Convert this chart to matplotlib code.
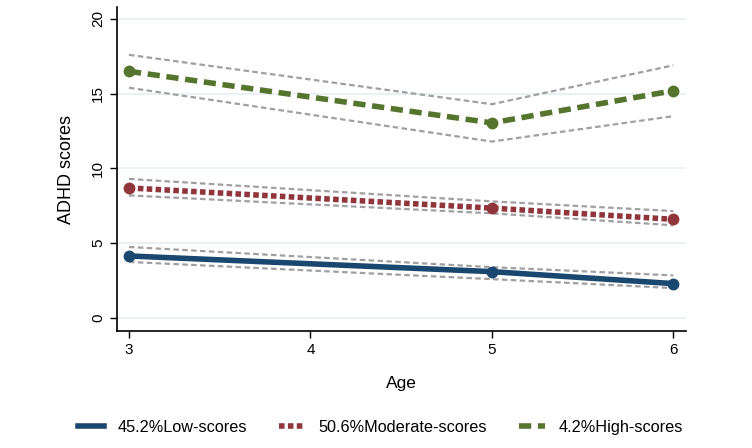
import matplotlib
matplotlib.use("Agg")
import matplotlib.pyplot as plt
import numpy as np

plt.rcParams['font.family'] = ['Liberation Sans', 'DejaVu Sans']

ages = [3, 5, 6]

low = [4.15, 3.1, 2.3]
low_hi = [4.75, 3.4, 2.85]
low_lo = [3.75, 2.6, 2.0]

mod = [8.7, 7.35, 6.6]
mod_hi = [9.3, 7.8, 7.15]
mod_lo = [8.2, 7.0, 6.2]

high = [16.5, 13.05, 15.2]
high_hi = [17.6, 14.3, 16.9]
high_lo = [15.4, 11.8, 13.5]

labels = ['45.2%Low-scores', '50.6%Moderate-scores', '4.2%High-scores']
colors = ['#1a476f', '#90353b', '#55752f']
styles = ['-', (0, (1, 0.6)), (0, (2.2, 1.2))]

fig = plt.figure(figsize=(7.52, 4.48), dpi=100)
ax = fig.add_axes([117 / 752, 1 - 331 / 448, (686 - 117) / 752, (331 - 7) / 448])

for y in [0, 5, 10, 15, 20]:
    ax.axhline(y, color='#e6eff3', lw=1.2, zorder=0)

handles = []
series = [(low, low_hi, low_lo), (mod, mod_hi, mod_lo), (high, high_hi, high_lo)]
for (m, hi, lo), c, ls, lab in zip(series, colors, styles, labels):
    ax.plot(ages, hi, color='#a0a0a0', ls=(0, (2.5, 1.5)), lw=1.6, zorder=1)
    ax.plot(ages, lo, color='#a0a0a0', ls=(0, (2.5, 1.5)), lw=1.6, zorder=1)
    h, = ax.plot(ages, m, color=c, ls=ls, lw=4, zorder=2, label=lab)
    ax.plot(ages, m, 'o', color=c, ms=7.5, zorder=3)
    handles.append(h)

ax.set_xlim(2.934, 6.07)
ax.set_ylim(-0.87, 20.8)
ax.set_xticks([3, 4, 5, 6])
ax.set_yticks([0, 5, 10, 15, 20])
for s in ['top', 'right']:
    ax.spines[s].set_visible(False)
for s in ['left', 'bottom']:
    ax.spines[s].set_linewidth(1.2)
ax.tick_params(direction='out', length=5, width=1, labelsize=11)
for t in ax.get_yticklabels():
    t.set_rotation(90)
    t.set_va('center')
ax.set_xlabel('Age', fontsize=12.5, labelpad=14)
ax.set_ylabel('ADHD scores', fontsize=13, labelpad=12)

fig.legend(handles=handles, labels=labels, loc='center', bbox_to_anchor=(0.506, 1 - 427 / 448),
           ncol=3, frameon=False, fontsize=11.7, handlelength=1.6, columnspacing=2.0,
           handletextpad=0.8)

fig.savefig('out.png', dpi=100)
